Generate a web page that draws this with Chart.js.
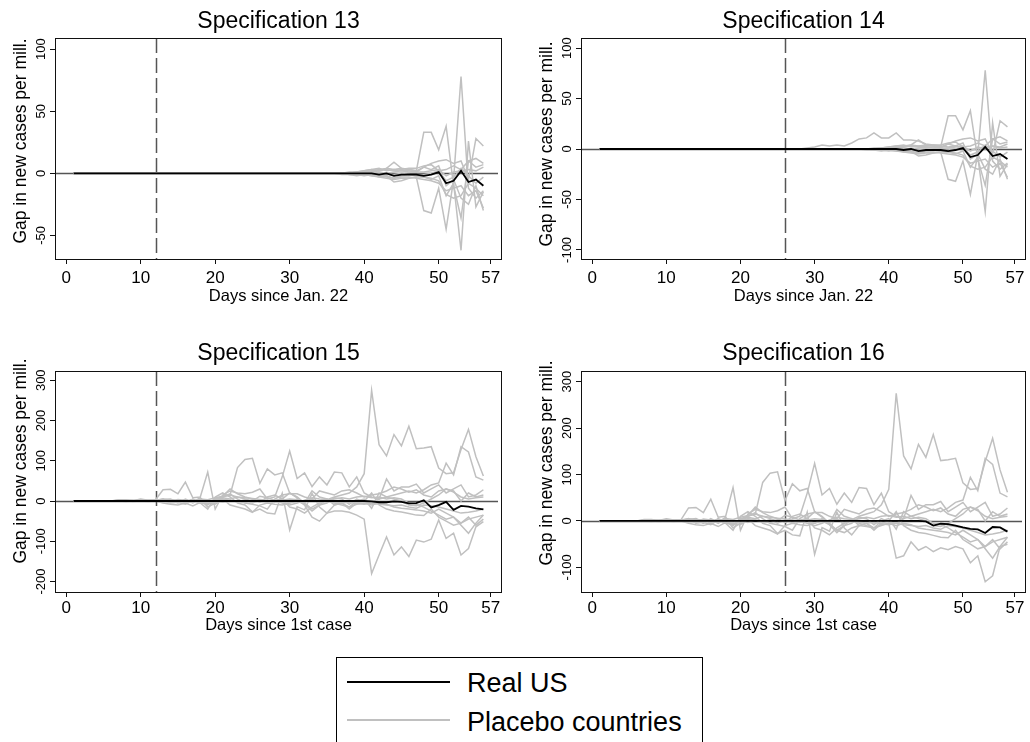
<!DOCTYPE html>
<html>
<head>
<meta charset="utf-8">
<script src="https://cdn.jsdelivr.net/npm/chart.js@4.4.0/dist/chart.umd.min.js"></script>
<style>
  body { margin: 0; background: #fff; width: 1030px; height: 742px; overflow: hidden; position: relative; font-family: "Liberation Sans", Arial, sans-serif; }
  .panel { position: absolute; }
  #legend { position: absolute; left: 336px; top: 657px; width: 365px; height: 120px; border: 1px solid #000; }
  .lgline { position: absolute; left: 347px; width: 103px; height: 2px; }
  .lgtext { position: absolute; left: 467px; font-size: 27px; line-height: 27px; color: #000; white-space: nowrap; }
</style>
</head>
<body>
<div class="panel" style="left:0;top:0"><canvas id="c13" width="515" height="310"></canvas></div>
<div class="panel" style="left:515px;top:0"><canvas id="c14" width="515" height="310"></canvas></div>
<div class="panel" style="left:0;top:310px"><canvas id="c15" width="515" height="330"></canvas></div>
<div class="panel" style="left:515px;top:310px"><canvas id="c16" width="515" height="330"></canvas></div>

<div id="legend"></div>
<div class="lgline" style="top:681px;background:#000"></div>
<div class="lgtext" style="top:670px">Real US</div>
<div class="lgline" style="top:719px;background:#c0c0c0"></div>
<div class="lgtext" style="top:709px">Placebo countries</div>

<script>
// days since start (x values)
const days = [
  1,2,3,4,5,6,7,8,9,10,
  11,12,13,14,15,16,17,18,19,20,
  21,22,23,24,25,26,27,28,29,30,
  31,32,33,34,35,36,37,38,39,40,
  41,42,43,44,45,46,47,48,49,50,
  51,52,53,54,55,56
];
const xTicks = [0, 10, 20, 30, 40, 50, 57];
const yTicks13 = [-50, 0, 50, 100];
const yTicks14 = [-100, -50, 0, 50, 100];
const yTicks15 = [-200, -100, 0, 100, 200, 300];
const yTicks16 = [-100, 0, 100, 200, 300];

// ---- specs 13/14 (days since Jan. 22) ----
const usJan = [
  0,0,0,0,0,0,0,0,0,0,
  0,0,0,0,0,0,0,0,0,0,
  0,0,0,0,0,0,0,0,0,0,
  0,0,0,0,0,0,0,0,0,0,
  0,-1,0,-2,-1,-1,-1,-2,-1,1,
  -8,-6,2,-7,-5,-10
];
const plJan1 = [
  0,0,0,0,0,0,0,0,0,0, 0,0,0,0,0,0,0,0,0,0, 0,0,0,0,0,0,0,0,0,0,
  0,0,0,0,0,0,0,1,1,2,
  3,2,4,3,2,2,1,5,3,6,
  -10,-5,78,-12,-20,-14
];
const plJan2 = [
  0,0,0,0,0,0,0,0,0,0, 0,0,0,0,0,0,0,0,0,0, 0,0,0,0,0,0,0,0,0,0,
  0,0,0,0,0,0,0,-1,-1,-2,
  -1,-3,-2,-4,-2,-1,-2,-3,-5,-2,
  -18,-8,-62,26,-27,-15
];
const plJan3 = [
  0,0,0,0,0,0,0,0,0,0, 0,0,0,0,0,0,0,0,0,0, 0,0,0,0,0,0,0,0,0,0,
  0,0,0,0,0,0,0,0,1,2,
  3,4,2,3,4,3,2,33,33,19,
  38,-10,-36,10,5,7
];
const plJan4 = [
  0,0,0,0,0,0,0,0,0,0, 0,0,0,0,0,0,0,0,0,0, 0,0,0,0,0,0,0,0,0,0,
  0,0,0,0,0,0,0,-1,-1,-1,
  -2,-3,-4,-5,-4,-4,-3,-30,-32,-12,
  -45,-5,-20,-25,-10,-30
];
const plJan5 = [
  0,0,0,0,0,0,0,0,0,0, 0,0,0,0,0,0,0,0,0,0, 0,0,0,0,0,0,0,0,0,0,
  0,0,0,0,0,0,0,0,1,1,
  2,3,4,9,4,3,2,5,8,10,
  11,8,10,-5,28,22
];
const plJan6 = [
  0,0,0,0,0,0,0,0,0,0, 0,0,0,0,0,0,0,0,0,0, 0,0,0,0,0,0,0,0,0,0,
  0,0,0,0,0,0,-1,-1,-2,-1,
  -2,-2,-3,-4,-3,-3,-4,-5,-6,-8,
  -14,-12,-10,-18,-14,-28
];
const plJan7 = [
  0,0,0,0,0,0,0,0,0,0, 0,0,0,0,0,0,0,0,0,0, 0,0,0,0,0,0,0,0,0,0,
  0,0,0,0,0,0,0,0,0,1,
  1,2,3,2,3,4,4,6,7,2,
  3,6,3,10,12,8
];
const plJan8 = [
  0,0,0,0,0,0,0,0,0,0, 0,0,0,0,0,0,0,0,0,0, 0,0,0,0,0,0,0,0,0,0,
  0,0,0,0,0,0,0,0,-1,-1,
  -1,-2,-2,-7,-6,-4,-3,-3,-4,-6,
  -17,-20,-18,-8,-12,-18
];
const plJan9 = [
  0,0,0,0,0,0,0,0,0,0, 0,0,0,0,0,0,0,0,0,0, 0,0,0,0,0,0,0,0,0,0,
  0,0,0,0,0,0,0,0,0,0,
  1,1,0,1,2,1,1,1,2,3,
  -2,1,2,3,2,5
];
const plJan10 = [
  0,0,0,0,0,0,0,0,0,0, 0,0,0,0,0,0,0,0,0,0, 0,0,0,0,0,0,0,0,0,0,
  0,0,0,0,0,0,0,0,0,0,
  0,0,-1,-1,0,-1,-1,-1,0,2,
  -6,-3,4,-2,-8,-3
];
// only visible in spec 14
const plJan11 = [
  0,0,0,0,0,0,0,0,0,0,
  0,0,0,0,0,0,0,0,0,0,
  0,0,0,0,0,0,0,0,1,2,
  4,3,4,3,6,10,11,16,11,11,
  16,9,9,8,5,4,3,2,3,1,
  -2,2,0,3,1,2
];

// ---- specs 15/16 (days since 1st case) ----
const usCase15 = [
  0,0,0,0,0,0,0,0,0,0,
  0,0,0,0,0,0,0,0,0,0,
  0,0,0,0,0,0,0,0,0,0,
  0,0,0,0,0,0,0,0,0,0,
  -1,-3,-3,-1,-2,-6,-5,2,-16,-10,
  -2,-22,-12,-14,-18,-21
];
const usCase16 = [
  0,0,0,0,0,0,0,0,0,0,
  0,0,0,0,0,0,0,0,0,0,
  0,0,0,0,0,0,0,0,0,0,
  0,0,0,0,0,0,0,0,0,0,
  0,0,0,0,-1,-10,-6,-7,-10,-14,
  -17,-18,-26,-13,-14,-23
];
const plCase1 = [
  0,0,0,0,0,0,1,2,1,3,
  2,2,3,-2,4,2,-3,5,3,8,
  12,15,10,8,6,4,2,0,-5,-10,
  -5,2,8,5,3,10,15,20,35,68,
  275,140,112,165,137,186,130,132,135,82,
  68,70,128,178,110,62
];
const plCase2 = [
  0,0,0,0,0,0,0,1,2,1,
  0,2,5,3,2,-3,4,-5,-8,3,
  10,15,83,103,106,44,80,65,70,20,
  10,-5,25,10,5,-10,-5,-15,0,5,
  -18,20,10,15,20,25,20,28,40,45,
  94,65,135,122,60,52
];
const plCase3 = [
  0,0,0,0,0,0,3,3,1,5,
  2,3,28,29,18,47,8,10,72,-20,
  15,25,20,18,22,30,5,10,60,124,
  56,70,36,60,40,72,70,35,60,20,
  10,5,55,25,35,35,42,20,30,40,
  20,30,40,10,15,28
];
const plCase4 = [
  0,0,0,0,0,0,0,-1,0,1,
  0,1,5,-5,-3,-8,2,-5,-20,10,
  20,10,-5,-10,-27,-20,-30,-32,19,-72,
  -14,-22,19,-15,-30,-10,-5,-20,-5,0,
  20,-10,-20,-25,-27,-31,-35,-36,-20,-40,
  -50,-60,-55,-40,-60,-45
];
const plCase5 = [
  0,0,0,0,0,0,1,0,0,2,
  1,0,2,3,-5,5,-3,8,-10,5,
  10,18,5,-5,-8,-12,-20,5,15,18,
  18,10,5,25,20,15,25,28,20,10,
  15,18,25,35,30,22,28,15,10,25,
  30,25,0,20,10,15
];
const plCase6 = [
  0,0,0,0,0,0,0,0,-1,0,
  -1,0,-5,-8,-10,-5,-12,-3,-5,-8,
  5,-10,-15,-20,-28,-10,-5,-8,-10,-5,
  0,-8,-25,-10,5,-5,-10,-15,-8,-5,
  -10,-5,-8,-15,-18,-20,-22,-25,-30,-20,
  -30,-40,-55,-45,-40,-35
];
const plCase7 = [
  0,0,0,0,0,0,0,1,0,0,
  1,0,0,-3,2,-4,5,-2,-8,2,
  8,5,10,5,0,12,8,2,5,-15,
  -20,-30,-15,-5,2,5,8,5,10,12,
  8,10,5,8,5,-5,-8,-15,-25,-35,
  -45,-40,-60,-80,-55,-35
];
const plCase8 = [
  0,0,0,0,0,0,2,1,0,3,
  1,2,3,5,-2,3,-5,5,-15,-5,
  12,30,18,10,5,-3,10,15,5,20,
  8,-5,-20,-10,-5,8,5,-8,5,-2,
  -5,5,10,5,0,-10,-12,-5,5,15,
  30,22,10,5,8,10
];
const plCase9 = [
  0,0,0,0,0,0,0,0,1,0,
  0,1,1,2,-1,0,3,-4,2,-3,
  5,2,-2,3,-5,2,-3,0,2,5,
  3,-2,4,-3,0,-2,-5,-3,-6,-8,
  -5,-8,-10,-12,-10,-15,-18,-10,-12,-15,
  -20,-25,-30,-28,-25,-20
];
const plCaseDeep15 = [
  0,0,0,0,0,0,0,0,0,0,
  0,0,-2,1,-3,2,-1,3,-2,1,
  -3,2,-1,-4,3,-2,1,-3,2,-5,
  5,-10,-40,-50,-30,-25,-25,-28,-35,-45,
  -180,-134,-89,-134,-114,-138,-97,-102,-95,-47,
  -93,-80,-134,-118,-64,-51
];
const plCaseDeep16 = [
  0,0,0,0,0,0,0,0,0,0,
  0,0,-2,1,-3,2,-1,3,-2,1,
  -3,2,-1,-4,3,-2,1,-3,2,-5,
  5,-8,-20,-25,-15,-10,-12,-15,-10,-5,
  -80,-75,-45,-63,-55,-66,-58,-62,-55,-60,
  -90,-75,-131,-118,-55,-50
];

Chart.defaults.font.family = '"Liberation Sans", Arial, sans-serif';

const FONT = '"Liberation Sans", Arial, sans-serif';

// draws frame, reference lines and all text like Stata does
const stataDecor = {
  id: 'stataDecor',
  beforeDatasetsDraw(chart, args, o) {
    const ctx = chart.ctx, a = chart.chartArea;
    const xs = chart.scales.x, ys = chart.scales.y;
    ctx.save();
    // y = 0 line
    const y0 = Math.round(ys.getPixelForValue(0)) + 0.5;
    ctx.strokeStyle = '#555';
    ctx.lineWidth = 1.5;
    ctx.beginPath(); ctx.moveTo(a.left, y0); ctx.lineTo(a.right - 4, y0); ctx.stroke();
    // treatment date
    const xv = Math.round(xs.getPixelForValue(o.vline)) + 0.5;
    ctx.setLineDash([15, 5]);
    ctx.beginPath(); ctx.moveTo(xv, a.top); ctx.lineTo(xv, a.bottom); ctx.stroke();
    ctx.restore();
  },
  afterDraw(chart, args, o) {
    const ctx = chart.ctx, a = chart.chartArea;
    const xs = chart.scales.x, ys = chart.scales.y;
    ctx.save();
    ctx.strokeStyle = '#111';
    ctx.lineWidth = 1;
    ctx.strokeRect(Math.round(a.left) + 0.5, Math.round(a.top) + 0.5, Math.round(a.right - a.left) - 1, Math.round(a.bottom - a.top));
    ctx.fillStyle = '#000';
    // title
    ctx.font = '23px ' + FONT;
    ctx.textAlign = 'center';
    ctx.textBaseline = 'alphabetic';
    ctx.fillText(o.title, (a.left + a.right) / 2, o.titleY);
    // x ticks and title
    ctx.font = '17px ' + FONT;
    xTicks.forEach(v => ctx.fillText(String(v), xs.getPixelForValue(v), a.bottom + o.xTickOff));
    ctx.font = '16.5px ' + FONT;
    ctx.fillText(o.xTitle, (a.left + a.right) / 2, a.bottom + o.xTitleOff);
    // y ticks (rotated)
    ctx.font = '13px ' + FONT;
    o.yTicks.forEach(v => {
      ctx.save();
      ctx.translate(a.left - 10, ys.getPixelForValue(v));
      ctx.rotate(-Math.PI / 2);
      ctx.fillText(String(v), 0, 0);
      ctx.restore();
    });
    // y title
    ctx.font = '17.5px ' + FONT;
    ctx.translate(a.left - 34, o.yTitleY);
    ctx.rotate(-Math.PI / 2);
    ctx.textBaseline = 'middle';
    ctx.fillText('Gap in new cases per mill.', 0, 0);
    ctx.restore();
  }
};

function toXY(vals) {
  return vals.map((v, i) => ({ x: days[i], y: v }));
}

function makePanel(id, p) {
  const datasets = [{ label: 'Real US', data: toXY(p.us), borderColor: '#000', borderWidth: 1.8 }];
  p.placebo.forEach((s, i) => datasets.push({ label: 'Placebo ' + (i + 1), data: toXY(s), borderColor: '#c0c0c0', borderWidth: 1.5 }));
  return new Chart(document.getElementById(id), {
    type: 'line',
    data: { datasets },
    options: {
      responsive: false,
      animation: false,
      layout: { padding: { top: p.top, right: p.right, left: 0, bottom: 0 } },
      elements: { point: { radius: 0 }, line: { tension: 0 } },
      plugins: {
        legend: { display: false },
        tooltip: { enabled: false },
        stataDecor: p.decor
      },
      scales: {
        x: {
          type: 'linear', min: -1.5, max: 58.5,
          afterBuildTicks: s => { s.ticks = xTicks.map(v => ({ value: v })); },
          afterFit: s => { s.height = p.xH; },
          ticks: { display: false },
          grid: { drawOnChartArea: false, tickLength: 5, color: '#111' },
          border: { display: false }
        },
        y: {
          type: 'linear', min: p.ymin, max: p.ymax,
          afterBuildTicks: s => { s.ticks = p.decor.yTicks.map(v => ({ value: v })); },
          afterFit: s => { s.width = p.yW; },
          ticks: { display: false },
          grid: { drawOnChartArea: false, tickLength: 5, color: '#111' },
          border: { display: false }
        }
      }
    },
    plugins: [stataDecor]
  });
}

const plJanCommon = [plJan1, plJan2, plJan3, plJan4, plJan5, plJan6, plJan7, plJan8, plJan9, plJan10];
const plCaseCommon = [plCase1, plCase2, plCase3, plCase4, plCase5, plCase6, plCase7, plCase8, plCase9];

makePanel('c13', {
  us: usJan, placebo: plJanCommon, ymin: -69, ymax: 109,
  top: 38, right: 13, xH: 51, yW: 55,
  decor: { title: 'Specification 13', titleY: 28, xTitle: 'Days since Jan. 22', vline: 12, yTicks: yTicks13, xTickOff: 23.5, xTitleOff: 42, yTitleY: 141 }
});
makePanel('c14', {
  us: usJan, placebo: plJanCommon.concat([plJan11]), ymin: -109, ymax: 110,
  top: 38, right: 4, xH: 51, yW: 66,
  decor: { title: 'Specification 14', titleY: 28, xTitle: 'Days since Jan. 22', vline: 26, yTicks: yTicks14, xTickOff: 23.5, xTitleOff: 42, yTitleY: 144 }
});
makePanel('c15', {
  us: usCase15, placebo: plCaseCommon.concat([plCaseDeep15]), ymin: -226, ymax: 323,
  top: 61, right: 13, xH: 48, yW: 55,
  decor: { title: 'Specification 15', titleY: 50, xTitle: 'Days since 1st case', vline: 12, yTicks: yTicks15, xTickOff: 20.5, xTitleOff: 38, yTitleY: 151 }
});
makePanel('c16', {
  us: usCase16, placebo: plCaseCommon.concat([plCaseDeep16]), ymin: -153, ymax: 323,
  top: 61, right: 4, xH: 48, yW: 66,
  decor: { title: 'Specification 16', titleY: 50, xTitle: 'Days since 1st case', vline: 26, yTicks: yTicks16, xTickOff: 20.5, xTitleOff: 38, yTitleY: 153 }
});
</script>
</body>
</html>
